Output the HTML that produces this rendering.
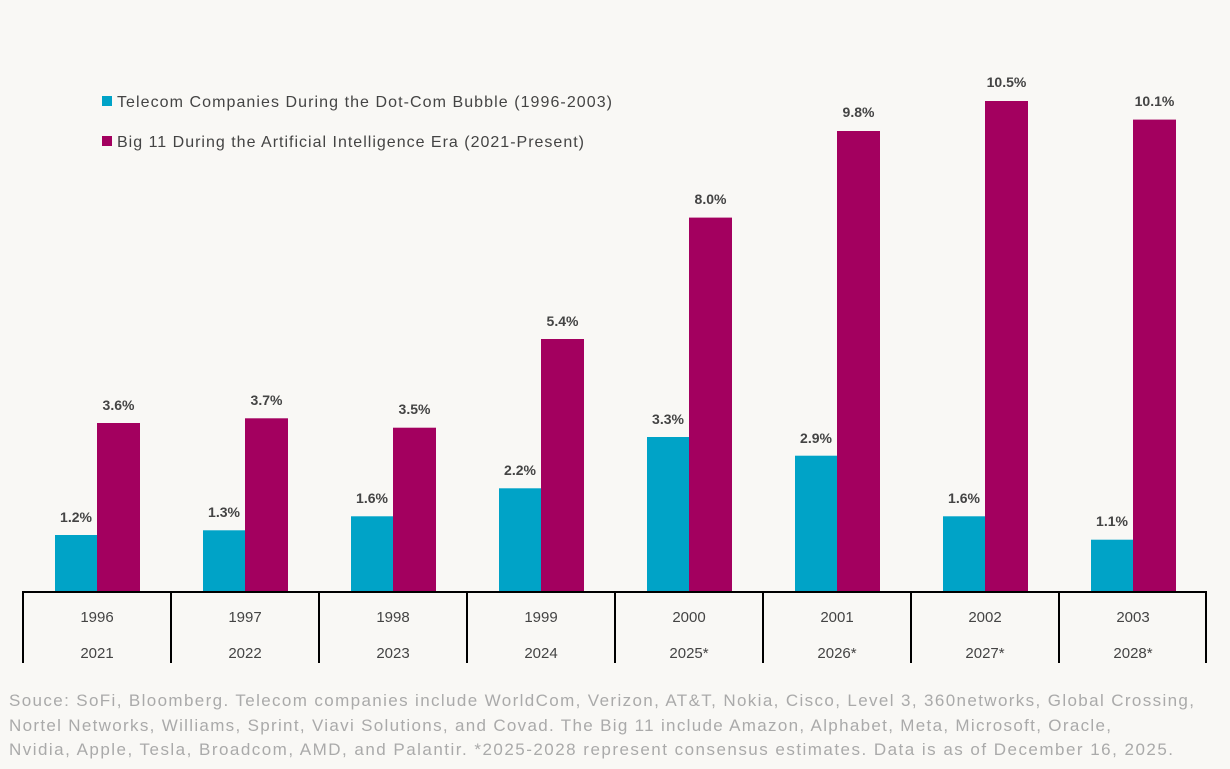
<!DOCTYPE html>
<html><head><style>
body{margin:0;background:#f9f8f5;}
svg{display:block}
text{font-family:"Liberation Sans",sans-serif;}
</style></head><body>
<svg width="1230" height="769" xmlns="http://www.w3.org/2000/svg">
<rect width="1230" height="769" fill="#f9f8f5"/>
<rect x="102" y="96" width="10" height="10" fill="#00a3c7"/>
<text x="117" y="107" font-size="16" fill="#444" textLength="495" lengthAdjust="spacing">Telecom Companies During the Dot-Com Bubble (1996-2003)</text>
<rect x="102" y="136" width="10" height="10" fill="#a3005f"/>
<text x="117" y="147" font-size="16" fill="#444" textLength="467" lengthAdjust="spacing">Big 11 During the Artificial Intelligence Era (2021-Present)</text>
<g fill="#00a3c7">
<rect x="55" y="535" width="42" height="56"/>
<rect x="203" y="530.3" width="42" height="60.7"/>
<rect x="351" y="516.3" width="42" height="74.7"/>
<rect x="499" y="488.3" width="42" height="102.7"/>
<rect x="647" y="437" width="42" height="154"/>
<rect x="795" y="455.7" width="42" height="135.3"/>
<rect x="943" y="516.3" width="42" height="74.7"/>
<rect x="1091" y="539.7" width="42" height="51.3"/>
</g>
<g fill="#a3005f">
<rect x="97" y="423" width="43" height="168"/>
<rect x="245" y="418.3" width="43" height="172.7"/>
<rect x="393" y="427.7" width="43" height="163.3"/>
<rect x="541" y="339" width="43" height="252"/>
<rect x="689" y="217.6" width="43" height="373.4"/>
<rect x="837" y="131" width="43" height="460"/>
<rect x="985" y="101" width="43" height="490"/>
<rect x="1133" y="119.6" width="43" height="471.4"/>
</g>
<g font-size="14" font-weight="bold" fill="#444" text-anchor="middle">
<text x="76" y="522">1.2%</text>
<text x="224" y="517">1.3%</text>
<text x="372" y="503">1.6%</text>
<text x="520" y="475">2.2%</text>
<text x="668" y="424">3.3%</text>
<text x="816" y="443">2.9%</text>
<text x="964" y="503">1.6%</text>
<text x="1112" y="526">1.1%</text>
<text x="118.5" y="410">3.6%</text>
<text x="266.5" y="405">3.7%</text>
<text x="414.5" y="414">3.5%</text>
<text x="562.5" y="326">5.4%</text>
<text x="710.5" y="204">8.0%</text>
<text x="858.5" y="117">9.8%</text>
<text x="1006.5" y="87">10.5%</text>
<text x="1154.5" y="106">10.1%</text>
</g>
<g font-size="15" fill="#444" text-anchor="middle">
<text x="97" y="622">1996</text><text x="245" y="622">1997</text><text x="393" y="622">1998</text><text x="541" y="622">1999</text>
<text x="689" y="622">2000</text><text x="837" y="622">2001</text><text x="985" y="622">2002</text><text x="1133" y="622">2003</text>
<text x="97" y="658">2021</text><text x="245" y="658">2022</text><text x="393" y="658">2023</text><text x="541" y="658">2024</text>
<text x="689" y="658">2025*</text><text x="837" y="658">2026*</text><text x="985" y="658">2027*</text><text x="1133" y="658">2028*</text>
</g>
<g stroke="#000" stroke-width="2">
<line x1="22" y1="592" x2="1207" y2="592"/>
<line x1="23" y1="591" x2="23" y2="663"/><line x1="171" y1="591" x2="171" y2="663"/>
<line x1="319" y1="591" x2="319" y2="663"/><line x1="467" y1="591" x2="467" y2="663"/>
<line x1="615" y1="591" x2="615" y2="663"/><line x1="763" y1="591" x2="763" y2="663"/>
<line x1="911" y1="591" x2="911" y2="663"/><line x1="1059" y1="591" x2="1059" y2="663"/>
<line x1="1206" y1="591" x2="1206" y2="663"/>
</g>
<g font-size="17" fill="#aaa">
<text x="9" y="706" textLength="1185" lengthAdjust="spacing">Souce: SoFi, Bloomberg. Telecom companies include WorldCom, Verizon, AT&amp;T, Nokia, Cisco, Level 3, 360networks, Global Crossing,</text>
<text x="9" y="731" textLength="1102" lengthAdjust="spacing">Nortel Networks, Williams, Sprint, Viavi Solutions, and Covad. The Big 11 include Amazon, Alphabet, Meta, Microsoft, Oracle,</text>
<text x="9" y="755" textLength="1164" lengthAdjust="spacing">Nvidia, Apple, Tesla, Broadcom, AMD, and Palantir. *2025-2028 represent consensus estimates. Data is as of December 16, 2025.</text>
</g>
</svg>
</body></html>
